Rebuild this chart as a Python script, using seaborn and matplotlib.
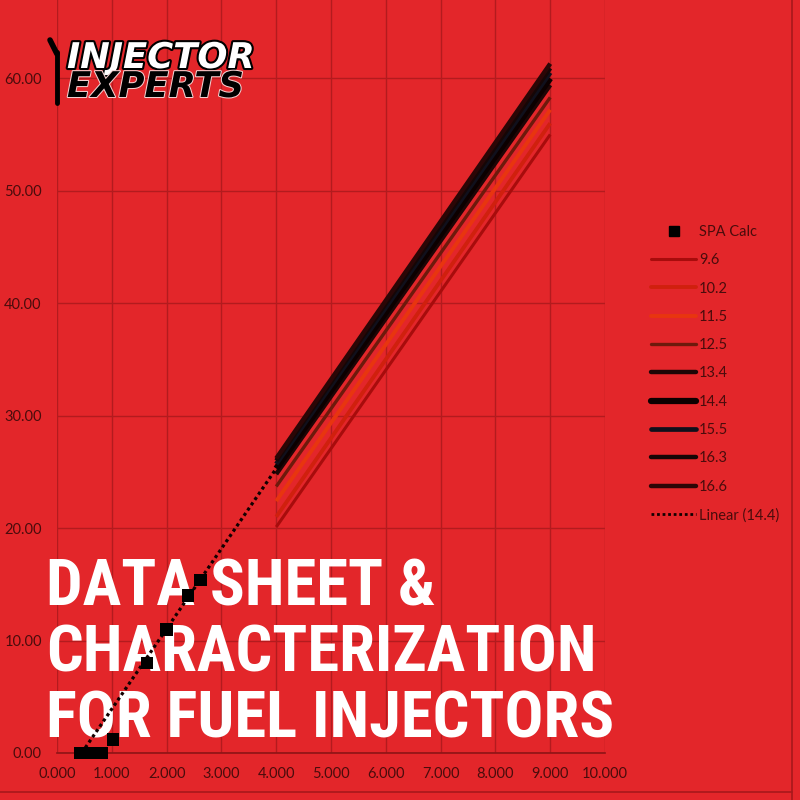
import numpy as np
import pandas as pd
import matplotlib
matplotlib.use("Agg")
import matplotlib.pyplot as plt
import matplotlib.patheffects as pe
from matplotlib.lines import Line2D
import seaborn as sns

# SPA Calc measured points (pulse width, flow)
spa_pw = [0.42, 0.62, 0.82, 1.02, 1.64, 2.00, 2.39, 2.62]
spa_flow = [0.0, 0.0, 0.0, 1.2, 8.0, 11.0, 14.0, 15.4]

# voltage series, read at both ends of the drawn range
voltages = ["9.6", "10.2", "11.5", "12.5", "13.4", "14.4", "15.5", "16.3", "16.6"]
pw_points = [4.0, 9.0]
flow_start = [20.1, 21.0, 22.4, 23.7, 24.8, 25.3, 25.7, 26.0, 26.2]
flow_end = [55.0, 56.0, 57.2, 58.3, 59.4, 60.0, 60.5, 60.9, 61.3]

# Linear (14.4) trend, extended back towards zero
trend_pw = [0.45, 4.0]
trend_flow = [0.0, 25.3]

x_ticks = [0, 1, 2, 3, 4, 5, 6, 7, 8, 9, 10]
y_ticks = [0, 10, 20, 30, 40, 50, 60]

title_lines = ["DATA SHEET &", "CHARACTERIZATION", "FOR FUEL INJECTORS"]

BG = "#e3262a"
GRID = "#b31b1e"
TXT = "#4a0c0c"

line_colors = {"9.6": "#a80c0c", "10.2": "#d0200e", "11.5": "#e8350f", "12.5": "#6e1a0c",
               "13.4": "#1e0606", "14.4": "#0c0000", "15.5": "#10101c", "16.3": "#160606",
               "16.6": "#2c0606"}
line_widths = {"9.6": 2.2, "10.2": 2.8, "11.5": 2.8, "12.5": 2.4, "13.4": 3.2,
               "14.4": 4.5, "15.5": 3.4, "16.3": 3.2, "16.6": 3.2}

rows = []
for v, a, b in zip(voltages, flow_start, flow_end):
    for pw, fl in zip(pw_points, [a, b]):
        rows.append({"pw": pw, "flow": fl, "volt": v})
df = pd.DataFrame(rows)

sns.set_style("white")
plt.rcParams["font.family"] = ["Lato", "DejaVu Sans"]

fig = plt.figure(figsize=(8, 8), dpi=100, facecolor=BG)
ax = fig.add_axes([0.0713, 0.05875, 0.685, 0.984])
ax.set_facecolor("none")

sns.lineplot(data=df, x="pw", y="flow", hue="volt", size="volt",
             hue_order=voltages, size_order=voltages,
             palette=line_colors, sizes=line_widths, legend=False,
             solid_capstyle="butt", zorder=3, ax=ax)
ax.plot(trend_pw, trend_flow, linestyle=(0, (1, 1)), color="#120000", lw=2.3, zorder=4)
sns.scatterplot(x=spa_pw, y=spa_flow, marker="s", color="black", s=80,
                edgecolor="none", zorder=5, clip_on=False, ax=ax)

ax.set_xlim(0, 10)
ax.set_ylim(0, 70)
ax.set_xticks(x_ticks)
ax.set_yticks(y_ticks)
ax.set_xticklabels([f"{t:.3f}" for t in x_ticks])
ax.set_yticklabels([f"{t:.2f}" for t in y_ticks])
ax.set_xlabel("")
ax.set_ylabel("")
ax.tick_params(axis="both", length=0, labelsize=10.5, labelcolor=TXT)
ax.tick_params(axis="y", pad=11)
ax.tick_params(axis="x", pad=10)
ax.set_axisbelow(True)
ax.grid(True, color=GRID, linewidth=1.0)
for s in ["top", "right", "left"]:
    ax.spines[s].set_visible(False)
ax.spines["bottom"].set_color("#8e1416")
ax.spines["bottom"].set_linewidth(1.2)

# big headline sits above the grid but under the data
baselines = [605, 672, 738]
for line, yb in zip(title_lines, baselines):
    ax.text(46 / 800, 1 - yb / 800, line, transform=fig.transFigure,
            fontsize=46.5, fontweight="bold", color="white", va="baseline", ha="left",
            family=["Roboto Condensed", "DejaVu Sans"], zorder=2)

# logo
fig.text(67 / 800, 1 - 68 / 800, "INJECTOR", fontsize=25.5, fontweight="bold",
         fontstyle="oblique", color="white", family=["DejaVu Sans"],
         path_effects=[pe.withStroke(linewidth=3, foreground="black")])
fig.text(67 / 800, 1 - 97 / 800, "EXPERTS", fontsize=25.5, fontweight="bold",
         fontstyle="oblique", color="black", family=["DejaVu Sans"],
         path_effects=[pe.withStroke(linewidth=1.5, foreground="#f4d0d0")])
fig.add_artist(Line2D([57 / 800, 57 / 800], [1 - 103 / 800, 1 - 52 / 800], color="black",
                      lw=3.5, transform=fig.transFigure))
fig.add_artist(Line2D([50 / 800, 57 / 800], [1 - 40 / 800, 1 - 54 / 800], color="black",
                      lw=4, transform=fig.transFigure))

# legend
handles = [Line2D([], [], marker="s", linestyle="none", color="black", markersize=7)]
labels = ["SPA Calc"]
for v in voltages:
    handles.append(Line2D([], [], color=line_colors[v], lw=line_widths[v]))
    labels.append(v)
handles.append(Line2D([], [], color="#120000", lw=2.0, linestyle=(0, (1, 1))))
labels.append("Linear (14.4)")
leg = fig.legend(handles, labels, loc="upper left", bbox_to_anchor=(651 / 800, 1 - 225 / 800),
                 frameon=False, fontsize=10.5, handlelength=3.1, handletextpad=0.2,
                 labelspacing=0.98, borderpad=0, borderaxespad=0)
for t in leg.get_texts():
    t.set_color(TXT)

# outer chart frame
fig.add_artist(Line2D([791.5 / 800, 791.5 / 800], [0, 1], color="#a8181b", lw=1.2,
                      transform=fig.transFigure))
fig.add_artist(Line2D([0, 791.5 / 800], [8.5 / 800, 8.5 / 800], color="#a8181b", lw=1.2,
                      transform=fig.transFigure))

fig.savefig("out.png", dpi=100, facecolor=BG)
